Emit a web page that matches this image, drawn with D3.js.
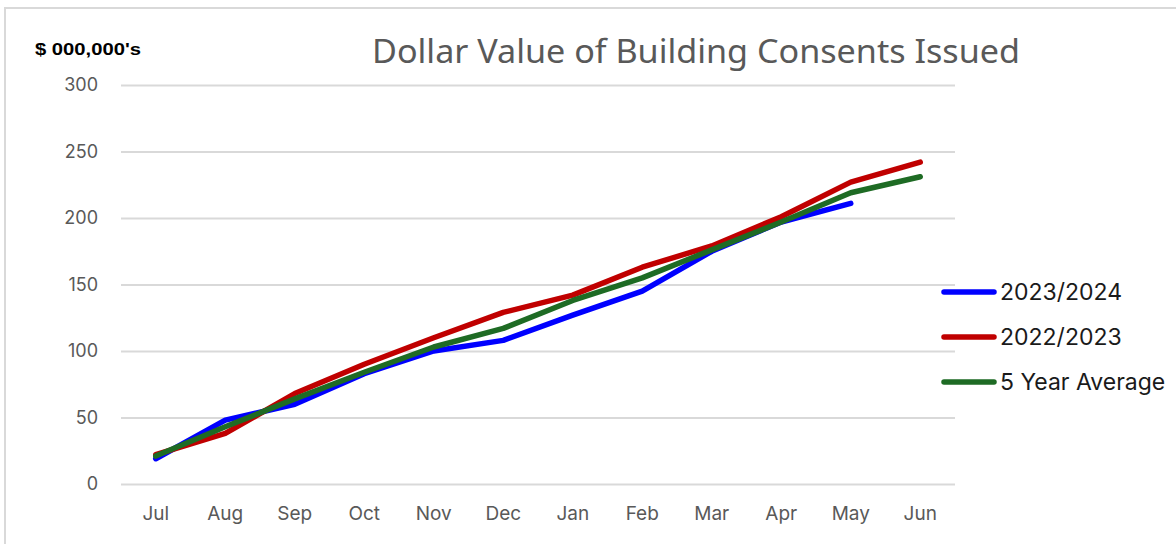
<!DOCTYPE html>
<html>
<head>
<meta charset="utf-8">
<script src="https://cdn.jsdelivr.net/npm/d3@7"></script>
<style>
  body { margin: 0; background: #fff; }
  svg { display: block; }
</style>
</head>
<body>
<div id="chart"></div>
<script>
// month categories (financial year Jul-Jun)
const months = ['Jul', 'Aug', 'Sep', 'Oct', 'Nov', 'Dec', 'Jan', 'Feb', 'Mar', 'Apr', 'May', 'Jun'];
const yTicks = [0, 50, 100, 150, 200, 250, 300];

// cumulative value, $ millions
const fy2324 = [19, 48, 60, 83, 100, 108, 127, 145, 175, 197, 211];
const fy2223 = [22, 38, 68, 90, 110, 129, 142, 163, 179, 201, 227, 242];
const avg5yr = [21, 43, 64, 84, 103, 117, 138, 155, 176, 197, 219, 231];

const seriesNames = ['2023/2024', '2022/2023', '5 Year Average'];
const seriesColors = ['#0000ff', '#c00000', '#1e6b24'];

const width = 1176, height = 544;
const svg = d3.select('#chart').append('svg')
    .attr('width', width)
    .attr('height', height);

// frame
svg.append('rect')
    .attr('x', 5).attr('y', 8)
    .attr('width', 1200).attr('height', 600)
    .attr('fill', 'none')
    .attr('stroke', '#d9d9d9')
    .attr('stroke-width', 2);

const x = d3.scaleBand().domain(months).range([121, 955]);
const y = d3.scaleLinear().domain([0, 300]).range([484, 85]);

// gridlines + y labels
const yAxis = svg.append('g')
    .attr('transform', 'translate(121,0)')
    .call(d3.axisLeft(y).tickValues(yTicks).tickSize(-834).tickPadding(23));
yAxis.select('.domain').remove();
yAxis.selectAll('.tick line').attr('stroke', '#d9d9d9').attr('stroke-width', 2);
yAxis.selectAll('.tick text')
    .attr('fill', '#595959')
    .style('font-family', 'Inter, "Noto Sans", sans-serif')
    .style('font-size', '18px');

// x labels
const xAxis = svg.append('g')
    .attr('transform', 'translate(0,484)')
    .call(d3.axisBottom(x).tickSize(0).tickPadding(23));
xAxis.select('.domain').remove();
xAxis.selectAll('.tick text')
    .attr('fill', '#595959')
    .style('font-family', 'Inter, "Noto Sans", sans-serif')
    .style('font-size', '19px');

// lines
const line = d3.line()
    .x((d, i) => x(months[i]) + x.bandwidth() / 2)
    .y(d => y(d));

[fy2324, fy2223, avg5yr].forEach((vals, k) => {
    svg.append('path')
        .datum(vals)
        .attr('d', line)
        .attr('fill', 'none')
        .attr('stroke', seriesColors[k])
        .attr('stroke-width', 5.5)
        .attr('stroke-linecap', 'round')
        .attr('stroke-linejoin', 'round');
});

// title
svg.append('text')
    .attr('x', 372).attr('y', 63)
    .attr('textLength', 648)
    .attr('lengthAdjust', 'spacingAndGlyphs')
    .attr('fill', '#595959')
    .style('font-family', '"Liberation Sans Narrow", "Noto Sans", sans-serif')
    .style('font-size', '33px')
    .text('Dollar Value of Building Consents Issued');

// unit label
svg.append('text')
    .attr('x', 35).attr('y', 55)
    .attr('textLength', 106)
    .attr('lengthAdjust', 'spacingAndGlyphs')
    .attr('fill', '#000')
    .style('font-family', '"Liberation Sans", Arial, sans-serif')
    .style('font-weight', 'bold')
    .style('font-size', '17px')
    .text("$ 000,000's");

// legend
const legend = svg.append('g');
seriesNames.forEach((name, k) => {
    const ly = 292 + k * 45;
    legend.append('line')
        .attr('x1', 944).attr('x2', 994)
        .attr('y1', ly).attr('y2', ly)
        .attr('stroke', seriesColors[k])
        .attr('stroke-width', 5.5)
        .attr('stroke-linecap', 'round');
    legend.append('text')
        .attr('x', 1000).attr('y', ly + 8)
        .attr('fill', '#1a1a1a')
        .style('font-family', 'Inter, "Noto Sans", sans-serif')
        .style('font-size', '23px')
        .text(name);
});
</script>
</body>
</html>
